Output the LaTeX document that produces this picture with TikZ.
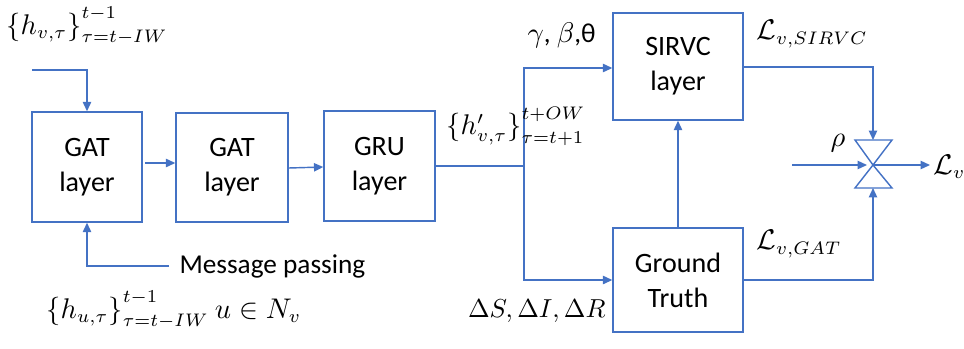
\documentclass[tikz,border=0pt]{standalone}
\usepackage{fontspec}
\setmainfont{Carlito}
\usetikzlibrary{arrows.meta}
\definecolor{lineblue}{RGB}{68,114,196}
\tikzset{
  blk/.style={draw=lineblue, line width=0.55pt, align=center, inner sep=0pt, font=\fontsize{10.8}{13.5}\selectfont},
  conn/.style={draw=lineblue, line width=0.55pt},
  arr/.style={conn, -{Triangle[length=3.6pt,width=3.2pt]}},
  lbl/.style={inner sep=0pt, font=\fontsize{10.5}{13}\selectfont}
}
\begin{document}
\begin{tikzpicture}[x=0.385pt, y=-0.385pt]
\useasboundingbox (0,0) rectangle (964,348);
% blocks
\node[blk, minimum width=110*0.385pt, minimum height=110*0.385pt] (gat1) at (87,167) {GAT\\layer};
\node[blk, minimum width=112*0.385pt, minimum height=109*0.385pt] (gat2) at (232,167.5) {GAT\\layer};
\node[blk, minimum width=111*0.385pt, minimum height=110*0.385pt] (gru) at (379.5,166) {GRU\\layer};
\node[blk, minimum width=130*0.385pt, minimum height=107*0.385pt] (sirvc) at (678,66.5) {SIRVC\\layer};
\node[blk, minimum width=130*0.385pt, minimum height=104*0.385pt] (gt) at (678,280) {Ground\\Truth};
% coordinates
\coordinate (inA) at (32,70);
\coordinate (mpA) at (169,266);
\coordinate (split) at (524,166);
\coordinate (bow) at (873,165);
\coordinate (bowT) at (873,140);
\coordinate (bowB) at (873,188);
\coordinate (rhoA) at (792,165);
\coordinate (outE) at (930,165);
% bowtie
\draw[conn] (855,140) -- (892,140) -- (bow) -- cycle;
\draw[conn] (855,188) -- (892,188) -- (bow) -- cycle;
% connectors
\draw[arr] (inA) -| (gat1.north);
\draw[arr] (mpA) -| (gat1.south);
\draw[arr] (145,163) -- (gat2.west |- 0,163);
\draw[arr] (gat2.east |- 0,168) -- (gru.west |- 0,167);
\draw[conn] (gru.east |- split) -- (split);
\draw[arr] (split) |- (sirvc.west |- 0,68);
\draw[arr] (split) |- (gt.west |- 0,280);
\draw[arr] (gt.north) -- (sirvc.south);
\draw[arr] (sirvc.east |- 0,67) -| (bowT);
\draw[arr] (gt.east |- 0,280) -| (bowB);
\draw[arr] (rhoA) -- (867,165);
\draw[arr] (bow) -- (outE);
% labels
\node[lbl, anchor=west] (l1) at (6,26) {$\bigl\{h_{v,\tau}\bigr\}_{\tau=t-IW}^{t-1}$};
\node[lbl, anchor=west] (l2) at (46,310) {$\bigl\{h_{u,\tau}\bigr\}_{\tau=t-IW}^{t-1}\ u\in N_v$};
\node[lbl, anchor=west] (mp) at (179,266) {Message passing};
\node[lbl, anchor=west] (l3) at (446,126) {$\bigl\{h'_{v,\tau}\bigr\}_{\tau=t+1}^{t+OW}$};
\node[lbl, anchor=west] (gbt) at (527,35) {$\gamma$, $\beta$,θ};
\node[lbl, anchor=east, font=\fontsize{9.8}{12}\selectfont] (dsir) at (606,311) {$\Delta S, \Delta I, \Delta R$};
\node[lbl, anchor=west] (lsir) at (756,34) {$\mathcal{L}_{v,SIRVC}$};
\node[lbl, anchor=west] (lgat) at (756,244) {$\mathcal{L}_{v,GAT}$};
\node[lbl] (rho) at (838,143) {$\rho$};
\node[lbl, anchor=west] (lv) at (933,167) {$\mathcal{L}_v$};
\end{tikzpicture}
\end{document}
